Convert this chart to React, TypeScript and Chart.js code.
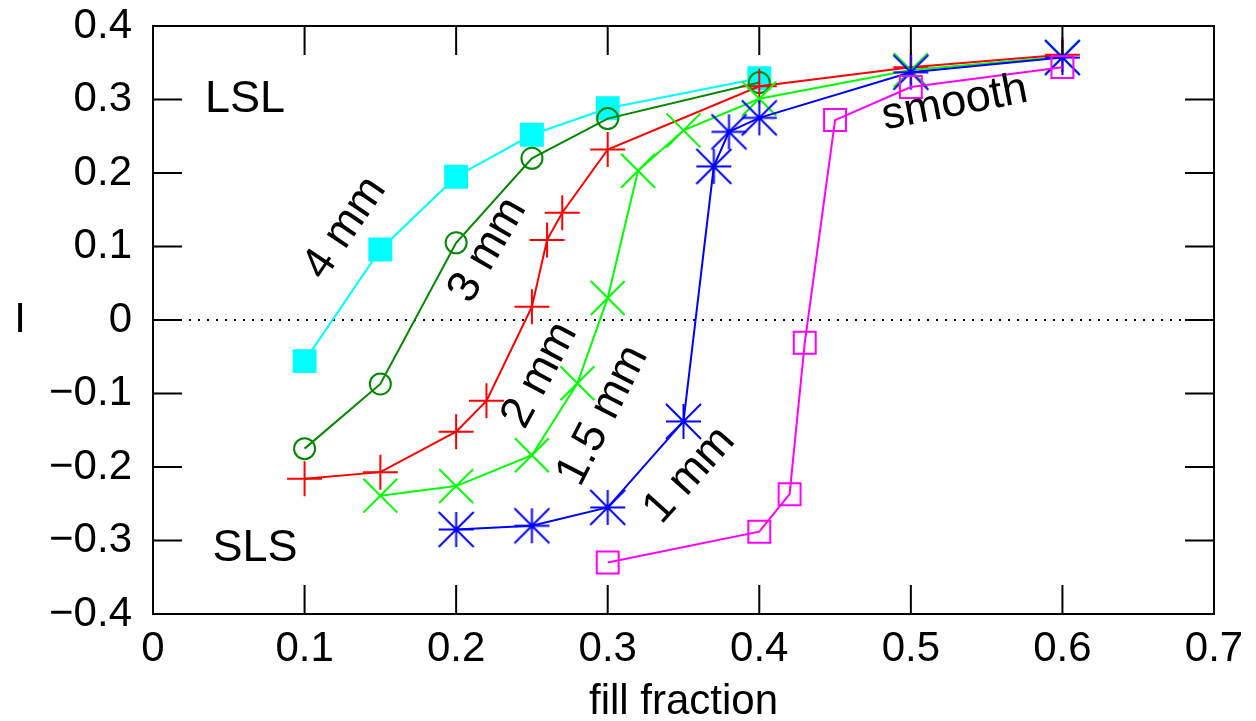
import React, { useEffect, useRef } from 'react';
import { Chart, registerables } from 'chart.js';

Chart.register(...registerables);

// ---- data ----
const x4mm = [0.1, 0.15, 0.2, 0.25, 0.3, 0.4];
const y4mm = [-0.056, 0.096, 0.195, 0.252, 0.288, 0.329];

const x3mm = [0.1, 0.15, 0.2, 0.25, 0.3, 0.4];
const y3mm = [-0.175, -0.087, 0.105, 0.22, 0.274, 0.323];

const x2mm = [0.1, 0.15, 0.2, 0.22, 0.25, 0.26, 0.27, 0.3, 0.4, 0.5, 0.6];
const y2mm = [-0.216, -0.207, -0.152, -0.11, 0.018, 0.109, 0.146, 0.232, 0.318, 0.344, 0.361];

const x15mm = [0.15, 0.2, 0.25, 0.28, 0.3, 0.32, 0.35, 0.4, 0.5, 0.6];
const y15mm = [-0.239, -0.226, -0.184, -0.086, 0.03, 0.203, 0.258, 0.301, 0.34, 0.358];

const x1mm = [0.2, 0.25, 0.3, 0.35, 0.37, 0.38, 0.4, 0.5, 0.6];
const y1mm = [-0.285, -0.28, -0.255, -0.138, 0.209, 0.256, 0.275, 0.337, 0.357];

const xSmooth = [0.3, 0.4, 0.42, 0.43, 0.45, 0.5, 0.6];
const ySmooth = [-0.33, -0.288, -0.237, -0.031, 0.272, 0.317, 0.344];

// annotation texts (placed in data coordinates)
const noteTexts = ['LSL', 'SLS', '4 mm', '3 mm', '2 mm', '1.5 mm', '1 mm', 'smooth'];
const noteX = [0.0607, 0.0673, 0.1267, 0.2209, 0.2553, 0.2969, 0.354, 0.529];
const noteY = [0.3, -0.311, 0.125, 0.095, -0.075, -0.13, -0.211, 0.295];
const noteAngle = [0, 0, -56, -60, -62, -63, -48, -11];

const xTitle = 'fill fraction';
const yTitle = 'I';

const FONT = "'Liberation Sans', Arial, sans-serif";
const FS = 42;
const NOTE_FS = 45;

function pts(xs: number[], ys: number[]) {
  return xs.map((x, i) => ({ x, y: ys[i] }));
}

function makeAsterisk(color: string, half: number, lw: number) {
  const c = document.createElement('canvas');
  const s = Math.ceil(half * 2 + lw * 2);
  c.width = s;
  c.height = s;
  const g = c.getContext('2d')!;
  const m = s / 2;
  g.strokeStyle = color;
  g.lineWidth = lw;
  g.beginPath();
  g.moveTo(m - half, m);
  g.lineTo(m + half, m);
  g.moveTo(m, m - half);
  g.lineTo(m, m + half);
  g.moveTo(m - half, m - half);
  g.lineTo(m + half, m + half);
  g.moveTo(m - half, m + half);
  g.lineTo(m + half, m - half);
  g.stroke();
  return c;
}

function fmt(v: number) {
  const r = Math.round(v * 10) / 10;
  if (Math.abs(r) < 1e-9) return '0';
  return r < 0 ? '\u2212' + Math.abs(r).toFixed(1) : r.toFixed(1);
}

const gnuplotPlugin = {
  id: 'gnuplotDecor',
  beforeDatasetsDraw(chart: any) {
    const { ctx, chartArea, scales } = chart;
    const y0 = scales.y.getPixelForValue(0);
    ctx.save();
    ctx.setLineDash([2, 7]);
    ctx.lineWidth = 2;
    ctx.strokeStyle = '#000';
    ctx.beginPath();
    ctx.moveTo(chartArea.left, y0);
    ctx.lineTo(chartArea.right, y0);
    ctx.stroke();
    ctx.restore();
  },
  afterDraw(chart: any) {
    const { ctx, chartArea, scales } = chart;
    const { left, right, top, bottom } = chartArea;
    const TL = 29;
    ctx.save();
    ctx.strokeStyle = '#000';
    ctx.lineWidth = 2;
    ctx.strokeRect(left, top, right - left, bottom - top);
    ctx.beginPath();
    scales.x.ticks.forEach((t: any) => {
      const px = scales.x.getPixelForValue(t.value);
      ctx.moveTo(px, bottom);
      ctx.lineTo(px, bottom - TL);
      ctx.moveTo(px, top);
      ctx.lineTo(px, top + TL);
    });
    scales.y.ticks.forEach((t: any) => {
      const py = scales.y.getPixelForValue(t.value);
      ctx.moveTo(left, py);
      ctx.lineTo(left + TL, py);
      ctx.moveTo(right, py);
      ctx.lineTo(right - TL, py);
    });
    ctx.stroke();

    ctx.fillStyle = '#000';
    ctx.font = `${NOTE_FS}px ${FONT}`;
    ctx.textAlign = 'center';
    ctx.textBaseline = 'middle';
    noteTexts.forEach((txt, i) => {
      const px = scales.x.getPixelForValue(noteX[i]);
      const py = scales.y.getPixelForValue(noteY[i]);
      ctx.save();
      ctx.translate(px, py);
      ctx.rotate((noteAngle[i] * Math.PI) / 180);
      ctx.fillText(txt, 0, 0);
      ctx.restore();
    });

    // axis titles
    ctx.font = `${FS}px ${FONT}`;
    ctx.textBaseline = 'alphabetic';
    ctx.fillText(xTitle, (left + right) / 2, 714);
    ctx.textBaseline = 'middle';
    ctx.fillText(yTitle, 20, scales.y.getPixelForValue(0));
    ctx.restore();
  },
};

export default function App() {
  const ref = useRef<HTMLCanvasElement>(null);

  useEffect(() => {
    const blueStar = makeAsterisk('#0000ff', 17.5, 2);
    const common = {
      showLine: true,
      borderWidth: 2,
      pointBorderWidth: 2,
      fill: false,
    };
    const chart = new Chart(ref.current!, {
      type: 'scatter',
      data: {
        datasets: [
          {
            ...common,
            label: '4 mm',
            data: pts(x4mm, y4mm),
            borderColor: '#00ffff',
            backgroundColor: '#00ffff',
            pointBackgroundColor: '#00ffff',
            pointBorderColor: '#00ffff',
            pointStyle: 'rect',
            pointRadius: 15.5,
            order: 6,
          },
          {
            ...common,
            label: '3 mm',
            data: pts(x3mm, y3mm),
            borderColor: '#008800',
            pointBackgroundColor: 'rgba(0,0,0,0)',
            pointBorderColor: '#008800',
            pointStyle: 'circle',
            pointRadius: 10.5,
            order: 5,
          },
          {
            ...common,
            label: '2 mm',
            data: pts(x2mm, y2mm),
            borderColor: '#ff0000',
            pointBorderColor: '#ff0000',
            pointStyle: 'cross',
            pointRadius: 17.5,
            order: 4,
          },
          {
            ...common,
            label: '1.5 mm',
            data: pts(x15mm, y15mm),
            borderColor: '#00ff00',
            pointBorderColor: '#00ff00',
            pointStyle: 'crossRot',
            pointRadius: 24,
            order: 3,
          },
          {
            ...common,
            label: '1 mm',
            data: pts(x1mm, y1mm),
            borderColor: '#0000ff',
            pointBorderColor: '#0000ff',
            pointStyle: blueStar as any,
            pointRadius: 17.5,
            order: 2,
          },
          {
            ...common,
            label: 'smooth',
            data: pts(xSmooth, ySmooth),
            borderColor: '#ff00ff',
            pointBackgroundColor: 'rgba(0,0,0,0)',
            pointBorderColor: '#ff00ff',
            pointStyle: 'rect',
            pointRadius: 15.5,
            order: 1,
          },
        ] as any,
      },
      options: {
        responsive: false,
        animation: false,
        devicePixelRatio: 1,
        layout: { padding: { left: 0, top: 25, right: 42, bottom: 0 } },
        plugins: {
          legend: { display: false },
          tooltip: { enabled: false },
        },
        elements: { line: { tension: 0 } },
        scales: {
          x: {
            type: 'linear',
            min: 0,
            max: 0.7,
            ticks: {
              stepSize: 0.1,
              padding: 10,
              color: '#000',
              font: { family: FONT, size: FS },
              callback: (v: any) => fmt(Number(v)),
              maxRotation: 0,
              autoSkip: false,
            },
            grid: { display: false, drawTicks: false },
            border: { display: false },
            afterFit: (s: any) => {
              s.height = 107;
              s.paddingLeft = 0;
              s.paddingRight = 0;
            },
          },
          y: {
            type: 'linear',
            min: -0.4,
            max: 0.4,
            ticks: {
              stepSize: 0.1,
              padding: 21,
              color: '#000',
              font: { family: FONT, size: FS },
              callback: (v: any) => fmt(Number(v)),
              autoSkip: false,
            },
            grid: { display: false, drawTicks: false },
            border: { display: false },
            afterFit: (s: any) => {
              s.width = 153;
              s.paddingTop = 0;
              s.paddingBottom = 0;
            },
          },
        },
      } as any,
      plugins: [gnuplotPlugin],
    });
    return () => chart.destroy();
  }, []);

  return (
    <div style={{ position: 'absolute', left: 0, top: 0, width: 1256, height: 721, background: '#fff' }}>
      <canvas ref={ref} width={1256} height={721} style={{ display: 'block' }} />
    </div>
  );
}
